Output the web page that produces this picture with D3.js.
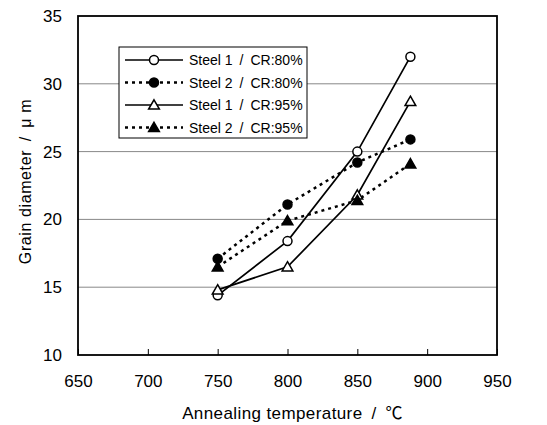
<!DOCTYPE html>
<html>
<head>
<meta charset="utf-8">
<script src="https://cdn.jsdelivr.net/npm/d3@7"></script>
<style>
  body { margin: 0; background: #fff; }
  svg text { font-family: "Liberation Sans", Arial, "Noto Sans CJK JP", sans-serif; fill: #000; }
</style>
</head>
<body>
<div id="chart"></div>
<script>
// data
var temps = [750, 800, 850, 888];
var steel1_cr80 = [14.4, 18.4, 25.0, 32.0];
var steel2_cr80 = [17.1, 21.1, 24.2, 25.9];
var steel1_cr95 = [14.8, 16.5, 21.8, 28.7];
var steel2_cr95 = [16.5, 19.9, 21.4, 24.1];
var seriesNames = ["Steel 1\u2002/\u2002CR:80%", "Steel 2\u2002/\u2002CR:80%", "Steel 1\u2002/\u2002CR:95%", "Steel 2\u2002/\u2002CR:95%"];
var xTicks = [650, 700, 750, 800, 850, 900, 950];
var yTicks = [10, 15, 20, 25, 30, 35];

var series = [
    { name: seriesNames[0], values: steel1_cr80, shape: "circle", filled: false, dashed: false },
    { name: seriesNames[1], values: steel2_cr80, shape: "circle", filled: true, dashed: true },
    { name: seriesNames[2], values: steel1_cr95, shape: "triangle", filled: false, dashed: false },
    { name: seriesNames[3], values: steel2_cr95, shape: "triangle", filled: true, dashed: true }
];

var margin = { top: 16, left: 78, bottom: 70, right: 50 },
    width = 547 - margin.left - margin.right,
    height = 425 - margin.top - margin.bottom;

var svg = d3.select("#chart").append("svg")
    .attr("width", 547)
    .attr("height", 425);

var g = svg.append("g")
    .attr("transform", "translate(" + margin.left + "," + margin.top + ")");

var x = d3.scaleLinear().domain([650, 950]).range([0, width]);
var y = d3.scaleLinear().domain([10, 35]).range([height, 0]);

// horizontal grid
g.selectAll(".grid")
    .data(yTicks.filter(function(d) { return d > 10 && d < 35; }))
    .enter().append("line")
    .attr("x1", 0).attr("x2", width)
    .attr("y1", function(d) { return y(d); })
    .attr("y2", function(d) { return y(d); })
    .style("stroke", "#888")
    .style("stroke-width", 1);

// frame
g.append("rect")
    .attr("width", width).attr("height", height)
    .style("fill", "none").style("stroke", "#000").style("stroke-width", 1.8);

// x axis: inward ticks, labels below
var xAxis = g.append("g")
    .attr("transform", "translate(0," + height + ")")
    .call(d3.axisBottom(x).tickValues(xTicks).tickSizeInner(-6).tickSizeOuter(0).tickPadding(20));
xAxis.select(".domain").remove();
xAxis.selectAll("text").style("font-size", "17px").style("font-family", "Liberation Sans, Arial, sans-serif");
xAxis.selectAll("line").style("stroke", "#000");

var yAxis = g.append("g")
    .call(d3.axisLeft(y).tickValues(yTicks).tickSize(0).tickPadding(16));
yAxis.select(".domain").remove();
yAxis.selectAll("text").style("font-size", "17px").style("font-family", "Liberation Sans, Arial, sans-serif");

// axis titles
svg.append("text")
    .attr("x", margin.left + width / 2 + 5)
    .attr("y", 419)
    .attr("text-anchor", "middle")
    .style("font-size", "17px")
    .style("letter-spacing", "0.4px")
    .text("Annealing temperature\u2002/\u2002\u2103");

svg.append("text")
    .attr("transform", "translate(31," + (margin.top + height / 2 - 4) + ") rotate(-90)")
    .attr("text-anchor", "middle")
    .style("font-size", "16px")
    .style("letter-spacing", "0.6px")
    .text("Grain diameter\u2002/\u2002\u03bc m");

var line = d3.line()
    .x(function(d, i) { return x(temps[i]); })
    .y(function(d) { return y(d); });

var triangle = d3.symbol().type(d3.symbolTriangle).size(50);

function drawMarker(sel, s) {
    if (s.shape == "circle") {
        sel.append("circle").attr("r", 4.5)
            .style("fill", s.filled ? "#000" : "#fff")
            .style("stroke", "#000").style("stroke-width", 1.5);
    } else {
        sel.append("path").attr("d", triangle)
            .attr("transform", "translate(0,1)")
            .style("fill", s.filled ? "#000" : "#fff")
            .style("stroke", "#000").style("stroke-width", 1.5);
    }
}

series.forEach(function(s) {
    g.append("path")
        .datum(s.values)
        .attr("d", line)
        .style("fill", "none")
        .style("stroke", "#000")
        .style("stroke-width", s.dashed ? 2.5 : 1.7)
        .style("stroke-dasharray", s.dashed ? "3,4" : null);
});

series.forEach(function(s) {
    g.selectAll(null)
        .data(s.values)
        .enter().append("g")
        .attr("transform", function(d, i) { return "translate(" + x(temps[i]) + "," + y(d) + ")"; })
        .each(function() { drawMarker(d3.select(this), s); });
});

// legend
var legend = svg.append("g").attr("transform", "translate(119,47)");
legend.append("rect")
    .attr("width", 188).attr("height", 91)
    .style("fill", "#fff").style("stroke", "#000").style("stroke-width", 1);

series.forEach(function(s, i) {
    var row = legend.append("g").attr("transform", "translate(0," + (13 + i * 22.5) + ")");
    row.append("line")
        .attr("x1", 6).attr("x2", 64)
        .style("stroke", "#000")
        .style("stroke-width", s.dashed ? 2.5 : 1.7)
        .style("stroke-dasharray", s.dashed ? "3,4" : null);
    var m = row.append("g").attr("transform", "translate(35,0)");
    drawMarker(m, s);
    row.append("text")
        .attr("x", 70).attr("y", 5)
        .style("font-size", "14px")
        .text(s.name);
});
</script>
</body>
</html>
